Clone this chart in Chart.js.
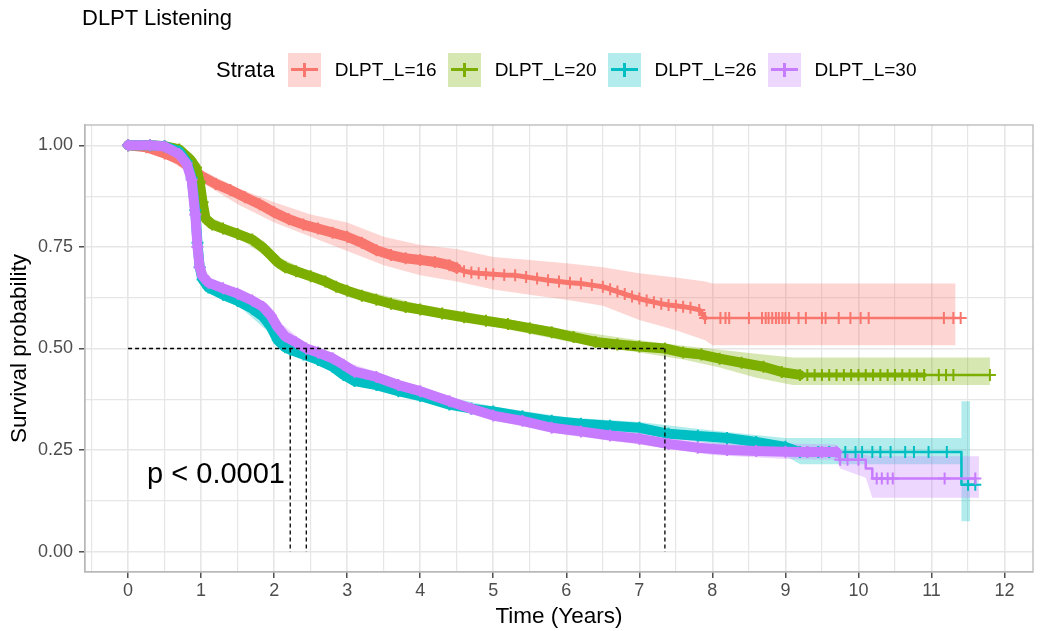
<!DOCTYPE html>
<html>
<head>
<meta charset="utf-8">
<script src="https://cdn.jsdelivr.net/npm/chart.js@4.4.1/dist/chart.umd.min.js"></script>
<style>
  body { margin: 0; background: #fff; font-family: "Liberation Sans", Arial, Helvetica, sans-serif; }
  #wrap { position: relative; width: 1043px; height: 631px; }
  #c { position: absolute; left: 0; top: 0; }
  #title { position: absolute; left: 82px; top: 5px; font-size: 22px; color: #000; line-height: 26px; }
  #legend { position: absolute; left: 216px; top: 53px; height: 34px; display: flex; align-items: center; color: #000; }
  #legend .ltitle { font-size: 22px; margin-right: 13px; }
  #legend .key { position: relative; width: 33px; height: 34px; flex: none; }
  #legend .key .h { position: absolute; left: 3px; right: 3px; top: 15px; height: 3px; }
  #legend .key .v { position: absolute; left: 15px; width: 3px; top: 10px; height: 14px; }
  #legend .lab { font-size: 19px; margin-left: 14px; margin-right: 11px; }
</style>
</head>
<body>
<div id="wrap">
  <canvas id="c" width="1043" height="631"></canvas>
  <div id="title">DLPT Listening</div>
  <div id="legend"><span class="ltitle">Strata</span></div>
</div>
<script>
// STRATA
const strata = ['DLPT_L=16', 'DLPT_L=20', 'DLPT_L=26', 'DLPT_L=30'];
const colors = ['#F8766D', '#7CAE00', '#00BFC4', '#C77CFF'];
const bandFill = ['rgba(248,118,109,0.3)', 'rgba(124,174,0,0.3)', 'rgba(0,191,196,0.3)', 'rgba(199,124,255,0.3)'];

// KAPLAN-MEIER CURVES [time, survival]
const km16 = [[0,1],[0.25,0.995],[0.5,0.98],[0.7,0.965],[0.85,0.945],[1.0,0.925],[1.2,0.905],[1.4,0.89],[1.6,0.872],
  [1.8,0.855],[2.0,0.835],[2.2,0.818],[2.4,0.805],[2.6,0.795],[2.8,0.785],[3.0,0.775],[3.2,0.76],[3.4,0.742],
  [3.6,0.73],[3.8,0.722],[4.0,0.718],[4.2,0.713],[4.4,0.705],[4.5,0.698],[4.6,0.69],[4.7,0.687],[4.8,0.685],
  [4.9,0.684],[5.0,0.683],[5.15,0.681],[5.3,0.68],[5.45,0.676],[5.6,0.672],[5.75,0.668],[5.9,0.665],[6.05,0.662],
  [6.2,0.66],[6.35,0.656],[6.5,0.652],[6.6,0.646],[6.7,0.64],[6.8,0.634],[6.9,0.628],[7.0,0.623],[7.1,0.618],
  [7.2,0.614],[7.3,0.61],[7.4,0.607],[7.5,0.605],[7.6,0.603],[7.7,0.6],[7.82,0.595],[7.9,0.575],[8.11,0.575],
  [8.18,0.575],[8.23,0.575],[8.5,0.575],[8.68,0.575],[8.73,0.575],[8.77,0.575],[8.82,0.575],[8.87,0.575],
  [8.91,0.575],[8.96,0.575],[9.0,0.575],[9.05,0.575],[9.18,0.575],[9.28,0.575],[9.5,0.575],[9.55,0.575],
  [9.73,0.575],[9.89,0.575],[10.03,0.575],[10.14,0.575],[11.17,0.575],[11.3,0.575],[11.4,0.575]];
const km20 = [[0,1],[0.3,1],[0.5,0.998],[0.7,0.99],[0.85,0.965],[0.93,0.945],[0.98,0.91],[1.02,0.86],[1.06,0.82],
  [1.15,0.805],[1.3,0.795],[1.5,0.782],[1.7,0.768],[1.85,0.748],[1.95,0.73],[2.05,0.712],[2.15,0.7],[2.3,0.69],
  [2.5,0.678],[2.7,0.665],[2.85,0.652],[3.0,0.642],[3.2,0.63],[3.4,0.62],[3.6,0.61],[3.8,0.602],[4.0,0.596],
  [4.3,0.586],[4.6,0.577],[4.9,0.568],[5.2,0.56],[5.5,0.55],[5.8,0.54],[6.1,0.528],[6.4,0.516],[6.7,0.51],
  [7.0,0.505],[7.35,0.5],[7.6,0.49],[7.85,0.485],[8.1,0.475],[8.4,0.465],[8.7,0.455],[8.95,0.442],[9.2,0.435],
  [9.3,0.435],[9.4,0.435],[9.5,0.435],[9.6,0.435],[9.7,0.435],[9.8,0.435],[9.9,0.435],[10.0,0.435],[10.1,0.435],
  [10.2,0.435],[10.3,0.435],[10.4,0.435],[10.5,0.435],[10.6,0.435],[10.7,0.435],[10.8,0.435],[10.9,0.435],
  [11.1,0.435],[11.2,0.435],[11.3,0.435],[11.8,0.435]];
const km26 = [[0,1],[0.3,1],[0.5,0.998],[0.7,0.985],[0.8,0.96],[0.87,0.92],[0.92,0.84],[0.95,0.76],[0.98,0.7],
  [1.02,0.67],[1.1,0.65],[1.3,0.632],[1.5,0.617],[1.7,0.598],[1.85,0.578],[1.95,0.555],[2.05,0.52],[2.15,0.503],
  [2.22,0.497],[2.4,0.485],[2.6,0.472],[2.8,0.455],[2.95,0.435],[3.1,0.42],[3.4,0.41],[3.7,0.395],[4.0,0.383],
  [4.4,0.362],[4.7,0.352],[5.0,0.345],[5.4,0.333],[5.8,0.322],[6.2,0.315],[6.6,0.31],[7.0,0.305],[7.4,0.29],
  [7.8,0.285],[8.2,0.28],[8.6,0.27],[9.0,0.258],[9.2,0.245],[9.3,0.245],[9.45,0.245],[9.6,0.245],[9.82,0.245],
  [9.96,0.245],[10.05,0.245],[10.19,0.245],[10.3,0.245],[10.44,0.245],[10.64,0.245],[10.76,0.245],[10.96,0.245],
  [11.21,0.245],[11.41,0.245],[11.41,0.165],[11.5,0.165],[11.6,0.165]];
const km30 = [[0,1],[0.3,1],[0.5,0.997],[0.7,0.978],[0.8,0.955],[0.87,0.915],[0.92,0.83],[0.95,0.75],[0.98,0.7],
  [1.02,0.678],[1.1,0.662],[1.3,0.648],[1.5,0.635],[1.7,0.618],[1.85,0.602],[1.95,0.582],[2.05,0.552],[2.15,0.53],
  [2.3,0.515],[2.44,0.5],[2.6,0.49],[2.8,0.476],[2.95,0.46],[3.1,0.443],[3.4,0.43],[3.7,0.41],[4.0,0.395],
  [4.4,0.37],[4.7,0.352],[5.0,0.335],[5.4,0.322],[5.8,0.305],[6.2,0.296],[6.6,0.286],[7.0,0.278],[7.4,0.265],
  [7.8,0.256],[8.2,0.25],[8.6,0.248],[9.0,0.246],[9.3,0.245],[9.5,0.245],[9.7,0.245],[9.75,0.226],[9.85,0.226],
  [10.0,0.226],[10.1,0.226],[10.1,0.205],[10.19,0.205],[10.19,0.18],[10.25,0.18],[10.32,0.18],[10.4,0.18],
  [10.47,0.18],[11.18,0.18],[11.6,0.18]];

// CONFIDENCE BANDS [time, upper, lower]
const band16 = [[0,1,1],[0.5,0.99,0.97],[0.85,0.958,0.93],[1.0,0.94,0.91],[1.5,0.895,0.855],[2.0,0.86,0.81],
  [2.5,0.83,0.775],[3.0,0.81,0.74],[3.5,0.775,0.705],[4.0,0.755,0.68],[4.5,0.745,0.665],[5.0,0.725,0.645],
  [5.5,0.718,0.632],[6.0,0.71,0.62],[6.5,0.7,0.605],[7.0,0.685,0.57],[7.5,0.675,0.545],[7.9,0.665,0.52],
  [8.0,0.66,0.508],[11.33,0.66,0.508]];
const band20 = [[0,1,1],[0.7,0.995,0.985],[0.85,0.972,0.958],[0.93,0.953,0.937],[0.98,0.92,0.9],[1.02,0.87,0.85],
  [1.06,0.83,0.81],[1.5,0.79,0.774],[2.0,0.73,0.712],[2.5,0.688,0.668],[3.0,0.653,0.631],[4.0,0.608,0.584],
  [5.0,0.578,0.554],[6.0,0.546,0.518],[7.0,0.52,0.49],[7.6,0.507,0.473],[8.1,0.497,0.453],[8.6,0.487,0.428],
  [9.1,0.478,0.41],[11.8,0.478,0.41]];
const band26 = [[0,1,1],[0.5,1,0.996],[0.7,0.99,0.98],[0.8,0.968,0.952],[0.87,0.93,0.91],[0.92,0.85,0.83],
  [0.95,0.77,0.75],[0.98,0.71,0.69],[1.1,0.66,0.64],[1.5,0.627,0.607],[2.0,0.548,0.528],[2.22,0.507,0.487],
  [2.6,0.482,0.462],[3.0,0.44,0.42],[4.0,0.394,0.372],[5.0,0.357,0.333],[6.0,0.331,0.305],[7.0,0.319,0.291],
  [8.0,0.298,0.266],[9.0,0.28,0.236],[9.2,0.28,0.215],[11.41,0.28,0.215],[11.41,0.37,0.075],[11.53,0.37,0.075]];
const band30 = [[0,1,1],[0.5,1,0.994],[0.7,0.988,0.968],[0.8,0.965,0.945],[0.87,0.925,0.905],[0.92,0.84,0.82],
  [0.95,0.76,0.74],[0.98,0.71,0.69],[1.1,0.672,0.652],[1.5,0.645,0.625],[2.0,0.577,0.557],[2.44,0.51,0.49],
  [3.0,0.466,0.444],[4.0,0.406,0.384],[5.0,0.347,0.323],[6.0,0.313,0.287],[7.0,0.292,0.264],[8.0,0.268,0.238],
  [9.0,0.266,0.228],[9.7,0.264,0.226],[9.75,0.248,0.205],[10.1,0.238,0.182],[10.19,0.235,0.133],[11.65,0.235,0.133]];

// MEDIANS (DLPT_L=20, 26, 30) AND P-VALUE
const medianTimes = [7.35, 2.22, 2.44];
const medianLevel = 0.5;
const pvalText = 'p < 0.0001';
const pvalAt = [0.26, 0.17];

// AXES
const xTickValues = [0, 1, 2, 3, 4, 5, 6, 7, 8, 9, 10, 11, 12];
const xTickLabels = ['0', '1', '2', '3', '4', '5', '6', '7', '8', '9', '10', '11', '12'];
const yTickValues = [0, 0.25, 0.5, 0.75, 1];
const yTickLabels = ['0.00', '0.25', '0.50', '0.75', '1.00'];

const curves = [km16, km20, km26, km30];
const bands = [band16, band20, band26, band30];
// where censor marks pile up: solid band, then a looser cluster
const denseUntil = [4.5, 9.2, 9.2, 9.7];
const clusterUntil = [7.9, 10.9, 9.2, 9.7];

// LEGEND
const legend = document.getElementById('legend');
strata.forEach((s, i) => {
    legend.innerHTML += `
        <span class="key" style="background:${bandFill[i]}"><i class="h" style="background:${colors[i]}"></i><i class="v" style="background:${colors[i]}"></i></span>
        <span class="lab">${s}</span>`;
});

// DATASETS
const datasets = [];
bands.forEach((b, i) => {
    datasets.push({ data: b.map(p => ({ x: p[0], y: p[1] })), borderColor: 'transparent', borderWidth: 0, pointRadius: 0, fill: '+1', backgroundColor: bandFill[i], order: 20 - i });
    datasets.push({ data: b.map(p => ({ x: p[0], y: p[2] })), borderColor: 'transparent', borderWidth: 0, pointRadius: 0, fill: false, order: 20 - i });
});

function isDrop(c, k) {
    return (k > 0 && c[k - 1][0] === c[k][0]) || (k < c.length - 1 && c[k + 1][0] === c[k][0]);
}

curves.forEach((c, i) => {
    datasets.push({
        data: c.map(p => ({ x: p[0], y: p[1] })),
        borderColor: colors[i],
        borderWidth: 2.5,
        borderJoinStyle: 'round',
        borderCapStyle: 'round',
        fill: false,
        segment: {
            borderWidth: ctx => {
                const x = ctx.p0.parsed.x;
                if (x < denseUntil[i]) return 10;
                if (x < clusterUntil[i]) return 5;
                return 2.5;
            }
        },
        pointStyle: 'cross',
        pointRadius: ctx => isDrop(c, ctx.dataIndex) ? 0 : 6,
        pointBorderWidth: 2,
        pointBorderColor: colors[i],
        pointBackgroundColor: colors[i],
        order: 4 - i
    });
});

const dashed = { borderColor: '#000', borderWidth: 1.3, borderDash: [4, 3], pointRadius: 0, fill: false, order: 0 };
datasets.push({ ...dashed, data: [{ x: 0, y: medianLevel }, { x: Math.max(...medianTimes), y: medianLevel }] });
medianTimes.forEach(m => {
    datasets.push({ ...dashed, data: [{ x: m, y: medianLevel }, { x: m, y: 0 }] });
});

// PLUGIN: panel border + p-value
const extras = {
    id: 'extras',
    afterDatasetsDraw(chart) {
        const { ctx, chartArea, scales } = chart;
        ctx.save();
        ctx.font = '29px "Liberation Sans", Arial, sans-serif';
        ctx.fillStyle = '#000';
        ctx.textAlign = 'left';
        ctx.textBaseline = 'alphabetic';
        ctx.fillText(pvalText, scales.x.getPixelForValue(pvalAt[0]), scales.y.getPixelForValue(pvalAt[1]));
        ctx.strokeStyle = '#b8b8b8';
        ctx.lineWidth = 1.3;
        ctx.strokeRect(chartArea.left, chartArea.top, chartArea.right - chartArea.left, chartArea.bottom - chartArea.top);
        ctx.restore();
    }
};

Chart.defaults.font.family = '"Liberation Sans", Arial, Helvetica, sans-serif';

const isMajorX = v => xTickValues.includes(v);
const isMajorY = v => yTickValues.includes(v);

new Chart(document.getElementById('c'), {
    type: 'line',
    data: { datasets },
    options: {
        responsive: false,
        animation: false,
        devicePixelRatio: 1,
        layout: { padding: { top: 125, right: 10, left: 0, bottom: 0 } },
        plugins: { legend: { display: false }, tooltip: { enabled: false } },
        scales: {
            x: {
                type: 'linear', min: -0.59, max: 12.39,
                ticks: {
                    stepSize: 0.5, includeBounds: false, autoSkip: false, maxRotation: 0, padding: 2,
                    color: '#4d4d4d', font: { size: 18 },
                    callback: v => isMajorX(v) ? xTickLabels[xTickValues.indexOf(v)] : ''
                },
                grid: {
                    color: '#e6e6e6', tickLength: 6, tickWidth: 1.3,
                    lineWidth: ctx => isMajorX(ctx.tick.value) ? 1.6 : 1.2,
                    tickColor: ctx => isMajorX(ctx.tick.value) ? '#333' : 'rgba(0,0,0,0)'
                },
                border: { display: true, color: '#b8b8b8', width: 1.3 },
                title: { display: true, text: 'Time (Years)', color: '#000', font: { size: 22.5 }, padding: { top: 0, bottom: 1 } },
                afterFit: s => { s.height = 59; }
            },
            y: {
                type: 'linear', min: -0.05, max: 1.05,
                ticks: {
                    stepSize: 0.125, includeBounds: false, autoSkip: false, padding: 6,
                    color: '#4d4d4d', font: { size: 18 },
                    callback: v => isMajorY(v) ? yTickLabels[yTickValues.indexOf(v)] : ''
                },
                grid: {
                    color: '#e6e6e6', tickLength: 6, tickWidth: 1.3,
                    lineWidth: ctx => isMajorY(ctx.tick.value) ? 1.6 : 1.2,
                    tickColor: ctx => isMajorY(ctx.tick.value) ? '#333' : 'rgba(0,0,0,0)'
                },
                border: { display: true, color: '#b8b8b8', width: 1.3 },
                title: { display: true, text: 'Survival probability', color: '#000', font: { size: 22.5 }, padding: { top: 6, bottom: 0 } },
                afterFit: s => { s.width = 85; }
            }
        }
    },
    plugins: [extras]
});
</script>
</body>
</html>
